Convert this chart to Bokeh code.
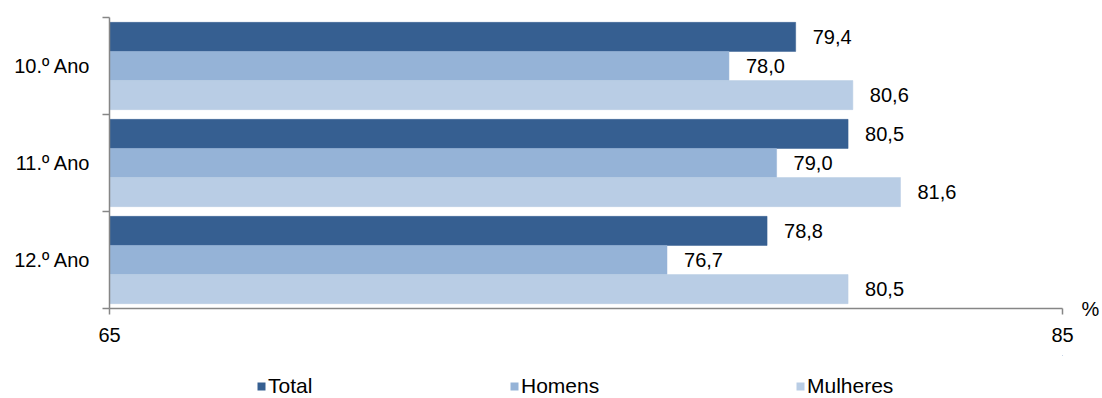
from bokeh.plotting import figure
from bokeh.models import (ColumnDataSource, FixedTicker, Legend, LegendItem,
                          Range1d, LinearAxis)
from bokeh.layouts import column
from bokeh.core.properties import value
from bokeh.embed import file_html
from bokeh.resources import INLINE

# ---- data ----
categories = ["10.º Ano", "11.º Ano", "12.º Ano"]
series_names = ["Total", "Homens", "Mulheres"]
total = [79.4, 80.5, 78.8]
homens = [78.0, 79.0, 76.7]
mulheres = [80.6, 81.6, 80.5]
x_ticks = [65, 85]
x_unit = "%"

colors = ["#365F91", "#95B3D7", "#B9CDE5"]
FONT = "Liberation Sans"
FS = "20px"
AXIS_COL = "#868686"

p = figure(width=1102, height=355, output_backend="svg", toolbar_location=None,
           x_range=Range1d(x_ticks[0], x_ticks[1]), y_range=Range1d(0, 3),
           min_border_left=109, min_border_right=39, min_border_top=17,
           min_border_bottom=47)
p.outline_line_color = None
p.xgrid.visible = False
p.ygrid.visible = False

n = len(categories)
offsets = [0.3, 0.0, -0.3]
sources = []
for s, (vals, col, off) in enumerate(zip([total, homens, mulheres], colors, offsets)):
    ys = [n - i - 0.5 + off for i in range(n)]
    src = ColumnDataSource(dict(y=ys, right=vals, left=[x_ticks[0]] * n,
                                lab=[f"{v:.1f}".replace(".", ",") for v in vals]))
    sources.append(src)
    p.hbar(y="y", left="left", right="right", height=0.3, source=src,
           fill_color=col, line_color=col, line_width=0.5)
    p.text(x="right", y="y", text="lab", source=src, x_offset=17,
           text_baseline="middle", text_align="left", text_color="black",
           text_font=value(FONT), text_font_size=FS)

# y axis: labels at category centres, ticks at boundaries
yax = p.yaxis[0]
yax.ticker = FixedTicker(ticks=[n - i - 0.5 for i in range(n)],
                         minor_ticks=[float(k) for k in range(n + 1)])
yax.major_label_overrides = {n - i - 0.5: c for i, c in enumerate(categories)}
yax.major_tick_in = 0
yax.major_tick_out = 0
yax.minor_tick_in = 0
yax.minor_tick_out = 7
yax.minor_tick_line_color = AXIS_COL
yax.minor_tick_line_width = 1.5
yax.axis_line_color = AXIS_COL
yax.axis_line_width = 1.5
yax.major_label_standoff = 12
yax.major_label_text_font = FONT
yax.major_label_text_font_size = FS
yax.major_label_text_color = "black"

xax = p.xaxis[0]
xax.ticker = FixedTicker(ticks=x_ticks, minor_ticks=[])
xax.major_tick_in = 0
xax.major_tick_out = 6
xax.major_tick_line_color = AXIS_COL
xax.major_tick_line_width = 1.5
xax.axis_line_color = AXIS_COL
xax.axis_line_width = 1.5
xax.major_label_standoff = 13
xax.major_label_text_font = FONT
xax.major_label_text_font_size = FS
xax.major_label_text_color = "black"

# unit label "%" to the right of the x axis end, via a bare right axis
rax = LinearAxis(ticker=FixedTicker(ticks=[0], minor_ticks=[]),
                 major_label_overrides={0: x_unit})
rax.axis_line_color = None
rax.major_tick_line_color = None
rax.major_tick_out = 0
rax.major_tick_in = 0
rax.major_label_standoff = 19
rax.major_label_text_font = FONT
rax.major_label_text_font_size = FS
rax.major_label_text_color = "black"
p.add_layout(rax, "right")

# legend strip below (its frame is aligned with the main frame by the column)
lp = figure(width=1102, height=43, output_backend="svg", toolbar_location=None,
            x_range=Range1d(-2, -1), y_range=Range1d(-2, -1),
            x_axis_type=None, y_axis_type=None,
            min_border_left=109, min_border_right=39, min_border_top=0,
            min_border_bottom=0)
lp.outline_line_color = None
lp.xgrid.visible = False
lp.ygrid.visible = False
leg_x = [147, 400, 686]
for name, col, lx, src in zip(series_names, colors, leg_x, sources):
    r = lp.hbar(y="y", left="left", right="right", height=0, source=src,
                fill_color=col, line_color=None)
    lg = Legend(items=[LegendItem(label=name, renderers=[r])], location=(lx, 0),
                glyph_width=10, glyph_height=10, label_standoff=2, padding=0,
                margin=0, border_line_alpha=0, background_fill_alpha=0,
                label_text_font=FONT, label_text_font_size="21px",
                label_text_color="black", label_height=20)
    lp.add_layout(lg, "center")

layout = column(p, lp, spacing=0)
open("out.html", "w").write(file_html(layout, INLINE))
